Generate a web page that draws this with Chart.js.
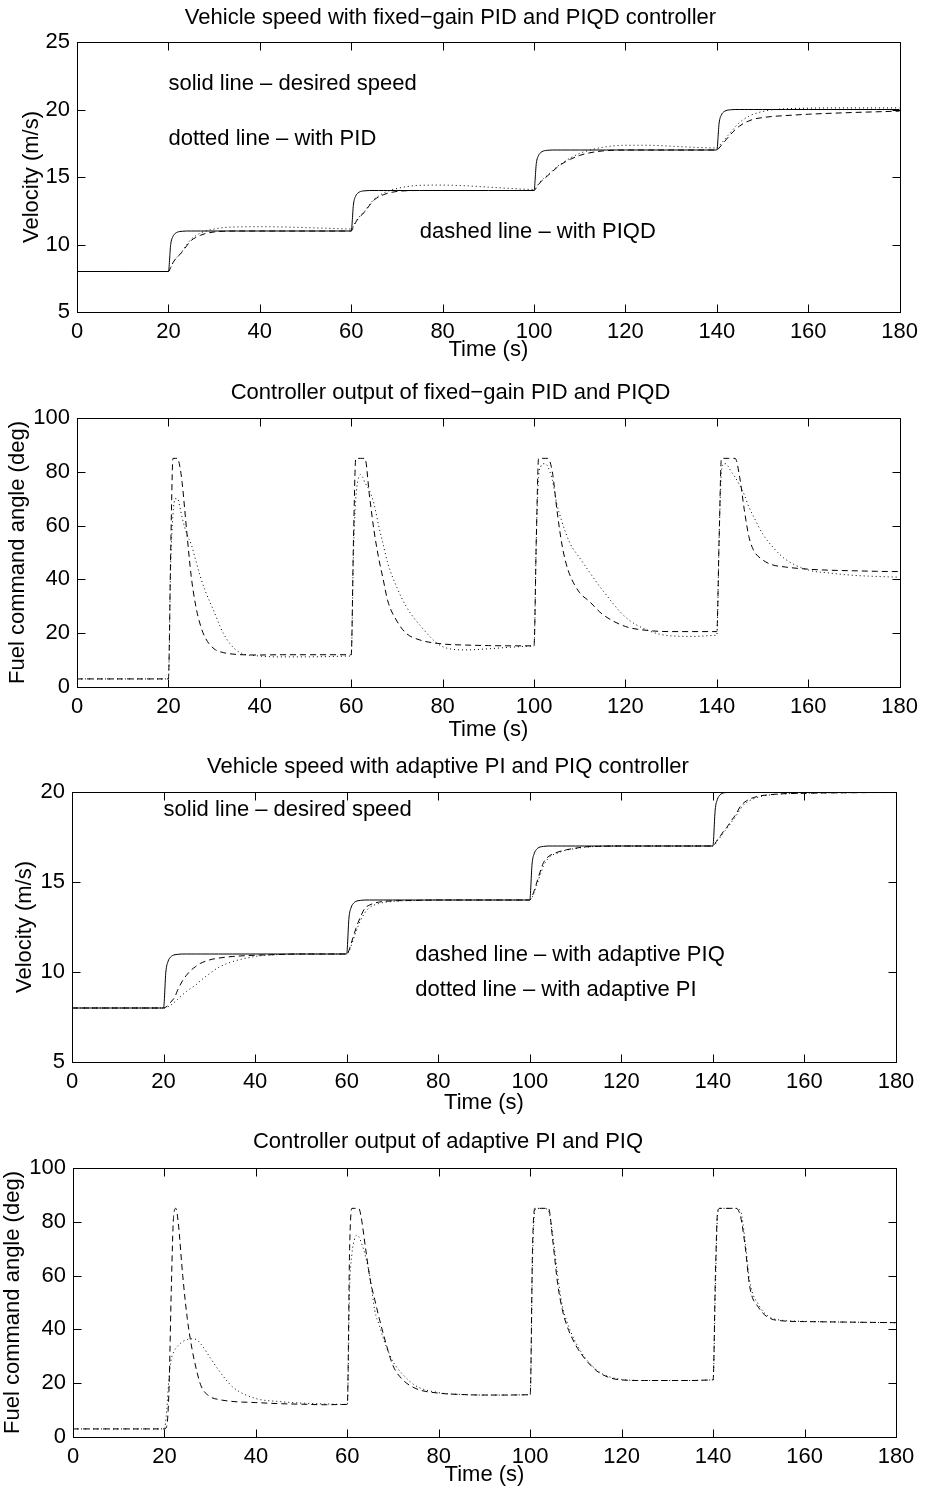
<!DOCTYPE html>
<html>
<head>
<meta charset="utf-8">
<script src="https://cdn.jsdelivr.net/npm/chart.js@4.4.1/dist/chart.umd.min.js"></script>
<style>
  body { margin: 0; background: #fff; }
  canvas { position: absolute; left: 0; }
</style>
</head>
<body>
<canvas id="c1"></canvas>
<canvas id="c2"></canvas>
<canvas id="c3"></canvas>
<canvas id="c4"></canvas>
<script>
// sample times (s), shared by every curve
const timeS = [0, 10,
  20, 20.5, 21, 21.5, 22, 22.5, 23, 24, 25, 26, 27, 28, 30, 32, 35, 40, 45, 50, 55, 59.9,
  60, 60.5, 61, 61.5, 62, 62.5, 63, 64, 65, 66, 67, 68, 70, 72, 75, 80, 85, 90, 95, 99.9,
  100, 100.5, 101, 101.5, 102, 102.5, 103, 104, 105, 106, 107, 108, 110, 112, 115, 120, 125, 130, 135, 139.9,
  140, 140.5, 141, 141.5, 142, 142.5, 143, 144, 145, 146, 147, 148, 150, 152, 155, 160, 165, 170, 175, 180];

// desired speed (m/s), same in both speed plots
const desiredSpeed = [8, 8,
  8, 10, 10.6, 10.82, 10.92, 10.96, 10.98, 11, 11, 11, 11, 11, 11, 11, 11, 11, 11, 11, 11, 11,
  11, 13, 13.6, 13.82, 13.92, 13.96, 13.98, 14, 14, 14, 14, 14, 14, 14, 14, 14, 14, 14, 14, 14,
  14, 16, 16.6, 16.82, 16.92, 16.96, 16.98, 17, 17, 17, 17, 17, 17, 17, 17, 17, 17, 17, 17, 17,
  17, 19, 19.6, 19.82, 19.92, 19.96, 19.98, 20, 20, 20, 20, 20, 20, 20, 20, 20, 20, 20, 20, 20];

// fixed-gain controllers: speed (m/s)
const pidSpeed = [8, 8,
  8, 8.3, 8.65, 8.9, 9.1, 9.28, 9.5, 9.98, 10.4, 10.65, 10.85, 10.98, 11.15, 11.25, 11.3, 11.32, 11.3, 11.25, 11.2, 11.15,
  11.15, 11.4, 11.7, 11.95, 12.15, 12.32, 12.5, 12.95, 13.35, 13.6, 13.8, 13.95, 14.15, 14.28, 14.38, 14.4, 14.35, 14.25, 14.15, 14.08,
  14.08, 14.25, 14.5, 14.7, 14.87, 15.0, 15.15, 15.45, 15.75, 16.0, 16.22, 16.42, 16.75, 16.97, 17.2, 17.35, 17.35, 17.28, 17.2, 17.15,
  17.15, 17.3, 17.5, 17.7, 17.9, 18.1, 18.3, 18.7, 19.05, 19.3, 19.5, 19.65, 19.85, 19.97, 20.05, 20.1, 20.12, 20.12, 20.12, 20.12];
const piqdSpeed = [8, 8,
  8, 8.3, 8.65, 8.9, 9.1, 9.25, 9.45, 9.9, 10.3, 10.52, 10.68, 10.8, 10.93, 10.98, 11, 11, 11, 11, 11, 11,
  11, 11.3, 11.65, 11.9, 12.1, 12.25, 12.45, 12.9, 13.3, 13.52, 13.68, 13.8, 13.93, 13.98, 14, 14, 14, 14, 14, 14,
  14, 14.2, 14.45, 14.65, 14.82, 14.95, 15.1, 15.4, 15.7, 15.95, 16.15, 16.32, 16.6, 16.78, 16.93, 17, 17, 17, 17, 17,
  17, 17.15, 17.35, 17.55, 17.75, 17.95, 18.15, 18.5, 18.78, 19.0, 19.15, 19.28, 19.4, 19.48, 19.55, 19.65, 19.72, 19.78, 19.83, 19.88];

// fixed-gain controllers: fuel command angle (deg)
const pidFuel = [3, 3,
  3, 45, 64, 70, 70, 67, 63, 57, 53, 47, 41, 36, 28, 20, 13.5, 11.5, 11.2, 11.2, 11.3, 11.5,
  11.5, 50, 70, 77, 79, 78, 76, 73, 68, 60, 53, 46, 37, 30, 23, 15, 13.8, 14.2, 14.8, 15.2,
  15.2, 55, 78, 82, 83, 83, 82, 77, 68, 62, 57, 53, 48, 43, 36, 26, 21, 19, 18.8, 19.2,
  19.2, 55, 80, 83, 83, 82, 80.5, 78, 75, 71.5, 67, 63.5, 57, 52.5, 47.5, 43.5, 42.3, 41.5, 41.1, 40.8];
const piqdFuel = [3, 3,
  3, 50, 85, 85, 85, 82, 76, 58, 41, 30, 23, 18.5, 14.2, 12.8, 12.1, 11.9, 12, 12, 12, 12,
  12, 55, 85, 85, 85, 85, 85, 71, 58, 48, 40, 32, 24.5, 20, 17.5, 16, 15.6, 15.4, 15.3, 15.3,
  15.3, 55, 85, 85, 85, 85, 85, 80, 66, 54, 46, 41, 35, 32, 27, 22.5, 21, 20.6, 20.6, 20.6,
  20.6, 55, 85, 85, 85, 85, 85, 85, 78, 66, 56, 51, 47.3, 45.5, 44.6, 43.8, 43.4, 43.2, 43, 42.9];

// adaptive controllers: speed (m/s)
const piqSpeed = [8, 8,
  8, 8.05, 8.15, 8.3, 8.45, 8.63, 8.95, 9.45, 9.82, 10.1, 10.3, 10.47, 10.67, 10.77, 10.86, 10.93, 10.97, 11, 11, 11,
  11, 11.2, 11.6, 12.0, 12.4, 12.75, 13.05, 13.55, 13.72, 13.82, 13.88, 13.92, 13.95, 13.97, 13.98, 14, 14, 14, 14, 14,
  14, 14.2, 14.55, 14.95, 15.35, 15.75, 16.08, 16.4, 16.55, 16.65, 16.73, 16.79, 16.88, 16.95, 16.98, 17, 17, 17, 17, 17,
  17, 17.15, 17.35, 17.5, 17.7, 17.88, 18.02, 18.4, 18.75, 19.2, 19.45, 19.6, 19.77, 19.84, 19.9, 19.93, 19.95, 19.96, 19.97, 19.97];
const piSpeed = [8, 8,
  8, 8.02, 8.07, 8.14, 8.24, 8.35, 8.46, 8.7, 8.92, 9.1, 9.27, 9.5, 9.9, 10.25, 10.57, 10.86, 10.97, 11, 11, 11,
  11, 11.15, 11.45, 11.85, 12.2, 12.55, 12.85, 13.3, 13.58, 13.72, 13.8, 13.86, 13.92, 13.95, 13.97, 14, 14, 14, 14, 14,
  14, 14.15, 14.45, 14.8, 15.2, 15.55, 15.9, 16.3, 16.5, 16.6, 16.7, 16.77, 16.86, 16.93, 16.98, 17, 17, 17, 17, 17,
  17, 17.1, 17.3, 17.45, 17.62, 17.8, 17.95, 18.3, 18.65, 19.05, 19.35, 19.52, 19.72, 19.82, 19.89, 19.93, 19.95, 19.96, 19.97, 19.97];

// adaptive controllers: fuel command angle (deg)
const piqFuel = [3, 3,
  3, 4, 18, 55, 82, 85, 80, 60, 44, 33, 25, 19, 15, 13.9, 13.2, 12.8, 12.4, 12.2, 12.0, 12.1,
  12.1, 70, 85, 85, 85, 85, 82, 70, 58.4, 51, 44, 37.5, 26.5, 21.5, 18, 16.3, 15.8, 15.6, 15.6, 15.7,
  15.7, 70, 85, 85, 85, 85, 85, 85, 72, 57, 47.5, 41.5, 34, 29, 24, 21.2, 21, 21, 21, 21.2,
  21.2, 60, 84, 85, 85, 85, 85, 85, 85, 82, 71, 56, 48, 44.5, 43.2, 42.9, 42.8, 42.7, 42.6, 42.5];
const piFuel = [3, 3,
  3, 10, 22, 29, 31.5, 33, 34, 35.5, 36.2, 36.5, 36.2, 34.5, 29.5, 24.5, 18.5, 14.3, 13.2, 12.6, 12.3, 12.1,
  12.1, 55, 68, 73, 75, 74.5, 72.5, 67, 59, 47, 41.5, 36, 28, 23.5, 19, 16.5, 15.8, 15.6, 15.6, 15.7,
  15.7, 65, 84, 85, 85, 85, 85, 84, 74, 60, 49, 43, 35, 29.5, 24.3, 21.4, 21, 21, 21, 21.2,
  21.2, 55, 83, 85, 85, 85, 85, 85, 85, 84, 73, 58, 49, 45, 43.4, 43, 42.8, 42.7, 42.6, 42.5];

const timeTicks = [0, 20, 40, 60, 80, 100, 120, 140, 160, 180];

const SOLID = [], DASHED = [6, 4], DOTTED = [1, 3];
const FONT = { family: "'Liberation Sans', Arial, Helvetica, sans-serif", size: 22 };
const LH = FONT.size * 1.2;

Chart.defaults.font.family = FONT.family;
Chart.defaults.font.size = FONT.size;
Chart.defaults.color = '#000';

// box with inward ticks on all four sides, like the original figure
const framePlugin = {
  id: 'frame',
  afterDraw(chart) {
    const { ctx, chartArea: a, scales: { x, y } } = chart;
    const L = Math.round(a.left) + 0.5, R = Math.round(a.right) + 0.5;
    const T = Math.round(a.top) + 0.5, B = Math.round(a.bottom) + 0.5;
    ctx.save();
    ctx.strokeStyle = '#000';
    ctx.lineWidth = 1;
    ctx.strokeRect(L, T, R - L, B - T);
    ctx.beginPath();
    x.ticks.forEach(t => {
      const px = Math.round(x.getPixelForValue(t.value)) + 0.5;
      ctx.moveTo(px, B); ctx.lineTo(px, B - 8);
      ctx.moveTo(px, T); ctx.lineTo(px, T + 8);
    });
    y.ticks.forEach(t => {
      const py = Math.round(y.getPixelForValue(t.value)) + 0.5;
      ctx.moveTo(L, py); ctx.lineTo(L + 8, py);
      ctx.moveTo(R, py); ctx.lineTo(R - 8, py);
    });
    ctx.stroke();
    ctx.restore();
  }
};

// text notes placed in data coordinates
const notePlugin = {
  id: 'notes',
  afterDatasetsDraw(chart, args, opts) {
    const { ctx, scales: { x, y } } = chart;
    ctx.save();
    ctx.fillStyle = '#000';
    ctx.font = FONT.size + 'px ' + FONT.family;
    ctx.textAlign = 'left';
    ctx.textBaseline = 'middle';
    (opts.items || []).forEach(n => {
      ctx.fillText(n[0], x.getPixelForValue(n[1]), y.getPixelForValue(n[2]));
    });
    ctx.restore();
  }
};

function buildChart(id, p) {
  const canvas = document.getElementById(id);
  canvas.width = 925;
  canvas.height = p.height;
  canvas.style.top = p.top + 'px';

  const datasets = p.series.map(s => ({
    data: timeS.map((t, i) => ({ x: t, y: s.values[i] })),
    borderColor: '#000',
    borderWidth: 1,
    borderDash: s.dash,
    pointRadius: 0,
    fill: false,
    cubicInterpolationMode: 'monotone'
  }));

  new Chart(canvas, {
    type: 'line',
    data: { datasets },
    options: {
      responsive: false,
      animation: false,
      events: [],
      layout: { padding: { left: 0, top: 0, bottom: 0, right: 925 - p.right } },
      plugins: {
        legend: { display: false },
        tooltip: { enabled: false },
        title: {
          display: true,
          text: p.title,
          color: '#000',
          font: { size: FONT.size, weight: 'normal' },
          padding: { top: p.titleY - p.top - LH / 2, bottom: p.areaTop - p.titleY - LH / 2 }
        },
        notes: { items: p.notes }
      },
      scales: {
        x: {
          type: 'linear',
          min: 0, max: 180,
          grid: { display: false, drawTicks: false },
          border: { display: false },
          afterBuildTicks: s => { s.ticks = timeTicks.map(v => ({ value: v })); },
          ticks: { padding: 7, maxRotation: 0, autoSkip: false },
          title: {
            display: true, text: 'Time (s)',
            padding: { top: 0, bottom: p.top + p.height - p.xTitleY - LH / 2 }
          },
          afterFit: s => { s.height = p.top + p.height - p.areaBottom; }
        },
        y: {
          min: p.yTicks[0], max: p.yTicks[p.yTicks.length - 1],
          grid: { display: false, drawTicks: false },
          border: { display: false },
          afterBuildTicks: s => { s.ticks = p.yTicks.map(v => ({ value: v })); },
          ticks: { padding: 7 },
          title: {
            display: true, text: p.yTitle,
            padding: { top: Math.max(0, p.yTitleX - LH / 2), bottom: 0 }
          },
          afterFit: s => { s.width = p.left; }
        }
      }
    },
    plugins: [framePlugin, notePlugin]
  });
}

buildChart('c1', {
  top: 0, height: 372, titleY: 18, areaTop: 42, areaBottom: 312, left: 77, right: 901,
  xTitleY: 350, yTitleX: 32,
  title: 'Vehicle speed with fixed\u2212gain PID and PIQD controller',
  yTitle: 'Velocity (m/s)', yTicks: [5, 10, 15, 20, 25],
  series: [
    { values: desiredSpeed, dash: SOLID },
    { values: pidSpeed, dash: DOTTED },
    { values: piqdSpeed, dash: DASHED }
  ],
  notes: [
    ['solid line \u2013 desired speed', 20, 21.9],
    ['dotted line \u2013 with PID', 20, 17.8],
    ['dashed line \u2013 with PIQD', 75, 10.9]
  ]
});

buildChart('c2', {
  top: 372, height: 373, titleY: 393, areaTop: 418, areaBottom: 687, left: 77, right: 901,
  xTitleY: 730, yTitleX: 18,
  title: 'Controller output of fixed\u2212gain PID and PIQD',
  yTitle: 'Fuel command angle (deg)', yTicks: [0, 20, 40, 60, 80, 100],
  series: [
    { values: pidFuel, dash: DOTTED },
    { values: piqdFuel, dash: DASHED }
  ],
  notes: []
});

buildChart('c3', {
  top: 745, height: 373, titleY: 767, areaTop: 792, areaBottom: 1062, left: 72, right: 896,
  xTitleY: 1103, yTitleX: 25,
  title: 'Vehicle speed with adaptive PI and PIQ controller',
  yTitle: 'Velocity (m/s)', yTicks: [5, 10, 15, 20],
  series: [
    { values: desiredSpeed, dash: SOLID },
    { values: piSpeed, dash: DOTTED },
    { values: piqSpeed, dash: DASHED }
  ],
  notes: [
    ['solid line \u2013 desired speed', 20, 19.0],
    ['dashed line \u2013 with adaptive PIQ', 75, 10.94],
    ['dotted line \u2013 with adaptive PI', 75, 9.0]
  ]
});

buildChart('c4', {
  top: 1118, height: 375, titleY: 1142, areaTop: 1168, areaBottom: 1437, left: 73, right: 896,
  xTitleY: 1475, yTitleX: 13,
  title: 'Controller output of adaptive PI and PIQ',
  yTitle: 'Fuel command angle (deg)', yTicks: [0, 20, 40, 60, 80, 100],
  series: [
    { values: piFuel, dash: DOTTED },
    { values: piqFuel, dash: DASHED }
  ],
  notes: []
});
</script>
</body>
</html>
